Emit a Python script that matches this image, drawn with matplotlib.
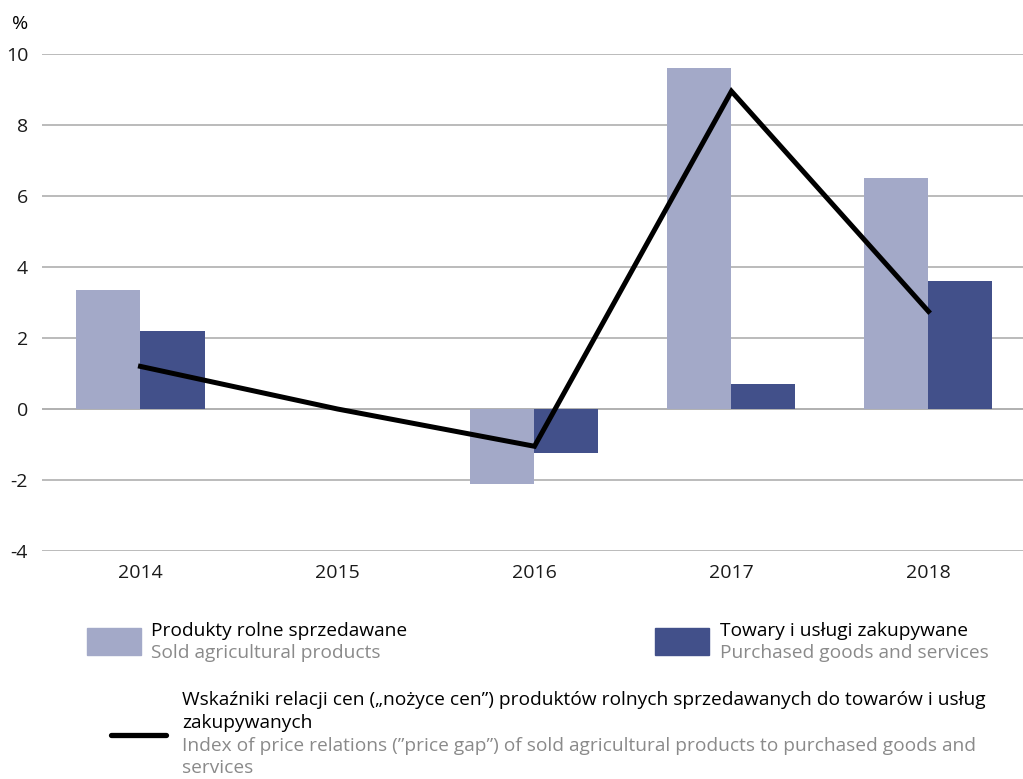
import matplotlib.pyplot as plt
import numpy as np
from matplotlib.patches import Rectangle
from matplotlib.lines import Line2D

plt.rcParams['font.family'] = ['Open Sans', 'DejaVu Sans']

years = ['2014', '2015', '2016', '2017', '2018']
sold = [3.35, 0.0, -2.1, 9.6, 6.5]        # produkty rolne sprzedawane
bought = [2.2, 0.0, -1.25, 0.7, 3.6]      # towary i uslugi zakupywane
gap = [1.2, 0.0, -1.05, 8.95, 2.75]       # nozyce cen

c_light = '#a3a9c8'
c_dark = '#42508a'
grey_txt = '#8a8a8a'

fig = plt.figure(figsize=(10.23, 7.79), dpi=100)
ax = fig.add_axes([42/1023, 1-551/779, 1-42/1023, (551-54)/779])

x = np.arange(len(years))
w = 0.325
ax.bar(x - w/2, sold, w, color=c_light, zorder=2)
ax.bar(x + w/2, bought, w, color=c_dark, zorder=2)
ax.plot(x, gap, color='black', lw=3.6, zorder=3, solid_joinstyle='miter')

ax.set_xlim(-0.5, 4.48)
ax.set_ylim(-4, 10)
ax.set_yticks(range(-4, 11, 2))
ax.set_yticklabels([str(v) for v in range(-4, 11, 2)])
ax.set_xticks(x)
ax.set_xticklabels(years)
ax.grid(axis='y', color='#b5b5b5', lw=1.3, zorder=0)
ax.axhline(0, color='#8c8c8c', lw=1.3, zorder=1)
for s in ax.spines.values():
    s.set_visible(False)
ax.tick_params(length=0, labelsize=14, colors='#1a1a1a')
ax.tick_params(axis='y', pad=10)
ax.tick_params(axis='x', pad=9)
fig.text(12/1023, 1-24/779, '%', fontsize=14, va='center', ha='left')

# legenda
def fx(px):
    return px/1023
def fy(py):
    return 1-py/779

fig.patches.append(Rectangle((fx(87), fy(655)), fx(54), 27/779, color=c_light, transform=fig.transFigure))
fig.patches.append(Rectangle((fx(655), fy(655)), fx(54), 27/779, color=c_dark, transform=fig.transFigure))
fig.lines.append(Line2D([fx(111), fx(166)], [fy(735), fy(735)], color='black', lw=3.8,
                        solid_capstyle='round', transform=fig.transFigure))

fs = 13.8
fig.text(fx(151), fy(631), 'Produkty rolne sprzedawane', fontsize=fs, va='center')
fig.text(fx(151), fy(653), 'Sold agricultural products', fontsize=fs, va='center', color=grey_txt)
fig.text(fx(720), fy(631), 'Towary i usługi zakupywane', fontsize=fs, va='center')
fig.text(fx(720), fy(653), 'Purchased goods and services', fontsize=fs, va='center', color=grey_txt)
fig.text(fx(182), fy(700), 'Wskaźniki relacji cen („nożyce cen”) produktów rolnych sprzedawanych do towarów i usług',
         fontsize=fs, va='center')
fig.text(fx(182), fy(723), 'zakupywanych', fontsize=fs, va='center')
fig.text(fx(182), fy(746), 'Index of price relations (”price gap”) of sold agricultural products to purchased goods and',
         fontsize=fs, va='center', color=grey_txt)
fig.text(fx(182), fy(768), 'services', fontsize=fs, va='center', color=grey_txt)

fig.savefig('out.png', dpi=100)
